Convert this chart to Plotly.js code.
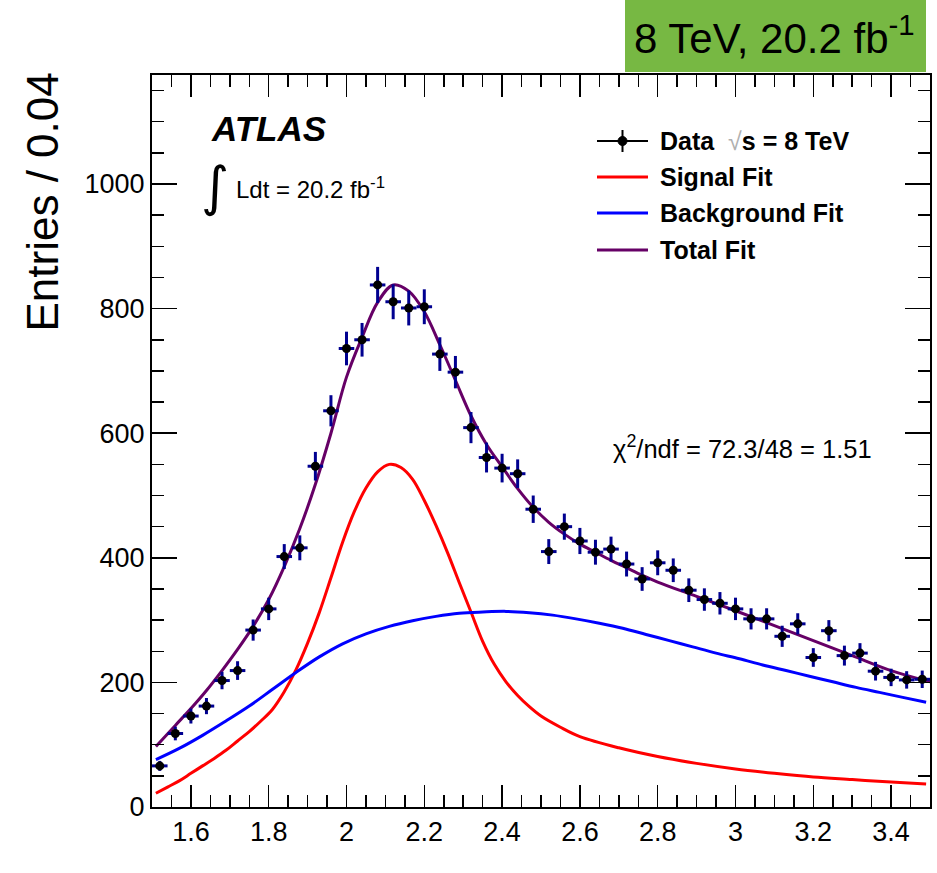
<!DOCTYPE html>
<html>
<head>
<meta charset="utf-8">
<script src="https://cdn.plot.ly/plotly-3.0.1.min.js"></script>
<style>html,body{margin:0;padding:0;background:#fff;}#chart{width:937px;height:873px;}</style>
</head>
<body>
<div id="chart"></div>
<script>
// ---- data ----
const binCenters = [1.52,1.56,1.60,1.64,1.68,1.72,1.76,1.80,1.84,1.88,
                    1.92,1.96,2.00,2.04,2.08,2.12,2.16,2.20,2.24,2.28,
                    2.32,2.36,2.40,2.44,2.48,2.52,2.56,2.60,2.64,2.68,
                    2.72,2.76,2.80,2.84,2.88,2.92,2.96,3.00,3.04,3.08,
                    3.12,3.16,3.20,3.24,3.28,3.32,3.36,3.40,3.44,3.48];
const entries = [66,118,146,162,203,219,284,318,402,416,
                 547,636,736,750,838,811,801,803,727,698,
                 609,561,544,535,478,410,450,427,409,414,
                 390,366,392,380,348,333,327,318,302,302,
                 274,294,240,283,243,247,218,208,204,205];
const entryErrors = [8,11,12,13,14,15,17,18,20,20,
                     23,25,27,27,29,28,28,28,27,26,
                     25,24,23,23,22,20,21,21,20,20,
                     20,19,20,19,19,18,18,18,17,17,
                     17,17,15,17,16,16,15,14,14,14];
const binHalfWidth = 0.02;

const signalX = [1.51,1.54,1.57,1.60,1.63,1.66,1.69,1.72,1.75,1.78,
                 1.81,1.84,1.87,1.90,1.93,1.96,1.99,2.02,2.05,2.08,
                 2.11,2.14,2.17,2.20,2.23,2.26,2.29,2.32,2.35,2.38,
                 2.41,2.44,2.47,2.50,2.55,2.60,2.70,2.80,2.90,3.00,
                 3.10,3.20,3.30,3.40,3.49];
const signalY = [22,32,42,54,66,78,91,106,121,138,
                 157,185,220,263,312,368,425,474,512,538,
                 550,545,526,492,452,408,360,313,266,229,
                 201,179,161,146,128,113,95,81,70,61,
                 54,48,44,40,37];

const bkgX = [1.51,1.57,1.63,1.69,1.75,1.81,1.87,1.93,1.99,2.05,
              2.11,2.17,2.23,2.29,2.35,2.41,2.47,2.53,2.59,2.65,
              2.71,2.77,2.83,2.89,2.95,3.01,3.07,3.13,3.19,3.25,
              3.31,3.37,3.43,3.49];
const bkgY = [76,94,115,138,162,189,216,241,262,278,
              290,299,306,311,313,314,312,308,302,295,
              287,277,267,257,247,238,228,219,210,201,
              192,184,176,168];

const totalX = [1.51,1.56,1.60,1.64,1.68,1.72,1.76,1.80,1.84,1.88,
                1.92,1.96,2.00,2.04,2.08,2.12,2.16,2.20,2.24,2.28,
                2.32,2.36,2.40,2.44,2.48,2.52,2.56,2.60,2.64,2.68,
                2.72,2.76,2.80,2.90,3.00,3.10,3.20,3.30,3.40,3.50];
const totalY = [97,131,158,187,219,253,290,333,386,447,
                518,600,690,754,810,838,828,795,742,685,
                628,582,546,511,481,457,438,422,409,396,
                384,372,361,338,315,291,267,243,219,201];

const legendLabels = ['Data', 'Signal Fit', 'Background Fit', 'Total Fit'];

// ---- styles ----
const FONT = 'Liberation Sans, Arial, Helvetica, sans-serif';
const cSignal = '#ff0000', cBkg = '#0000ff', cTotal = '#660066', cErr = '#000090';

const traces = [
  {x: signalX, y: signalY, type: 'scatter', mode: 'lines', name: legendLabels[1],
   line: {color: cSignal, width: 3, shape: 'spline', smoothing: 1}},
  {x: bkgX, y: bkgY, type: 'scatter', mode: 'lines', name: legendLabels[2],
   line: {color: cBkg, width: 3, shape: 'spline', smoothing: 1}},
  {x: totalX, y: totalY, type: 'scatter', mode: 'lines', name: legendLabels[3],
   line: {color: cTotal, width: 3, shape: 'spline', smoothing: 1}},
  {x: binCenters, y: entries, type: 'scatter', mode: 'markers', name: legendLabels[0],
   marker: {color: '#000', size: 9, symbol: 'circle'},
   error_y: {type: 'data', array: entryErrors, visible: true, color: cErr, thickness: 3, width: 0},
   error_x: {type: 'constant', value: binHalfWidth, visible: true, color: cErr, thickness: 3, width: 0}}
];

// pixel -> paper helpers (plot area: x 152..930, y 75..807)
const L = 152, R = 7, T = 75, B = 66, W = 937, H = 873;
const pw = W - L - R, ph = H - T - B;
const px = v => (v - L) / pw;
const py = v => (H - B - v) / ph;

const legendRowsY = [141, 177, 213, 250];
const legendColors = ['#000', cSignal, cBkg, cTotal];
const shapes = [
  {type: 'rect', xref: 'paper', yref: 'paper', x0: px(625), x1: px(926), y0: py(72), y1: py(0),
   fillcolor: '#77b843', line: {width: 0}, layer: 'above'}
];
for (let i = 0; i < 4; i++) {
  shapes.push({type: 'line', xref: 'paper', yref: 'paper', x0: px(597), x1: px(648),
               y0: py(legendRowsY[i]), y1: py(legendRowsY[i]),
               line: {color: legendColors[i], width: i === 0 ? 2 : 3}});
}
shapes.push({type: 'line', xref: 'paper', yref: 'paper', x0: px(622.5), x1: px(622.5),
             y0: py(legendRowsY[0] - 11), y1: py(legendRowsY[0] + 11), line: {color: '#000', width: 2}});
shapes.push({type: 'circle', xref: 'paper', yref: 'paper', xsizemode: 'pixel', ysizemode: 'pixel',
             xanchor: px(622.5), yanchor: py(legendRowsY[0]), x0: -4.5, x1: 4.5, y0: -4.5, y1: 4.5,
             fillcolor: '#000', line: {color: '#000', width: 1}});

const legendTexts = [
  '<b>Data</b>\u00a0\u00a0<span style="color:#b0b0b0">\u221a</span><b>s = 8 TeV</b>',
  '<b>' + legendLabels[1] + '</b>',
  '<b>' + legendLabels[2] + '</b>',
  '<b>' + legendLabels[3] + '</b>'
];
const annotations = legendTexts.map((t, i) => ({
  text: t, xref: 'paper', yref: 'paper', x: px(658), y: py(legendRowsY[i]),
  xanchor: 'left', yanchor: 'middle', showarrow: false,
  font: {family: FONT, size: 25, color: '#000'}
}));
annotations.push(
  {text: 'Entries / 0.04', textangle: -90, xref: 'paper', yref: 'paper', x: px(42), y: py(70),
   xanchor: 'center', yanchor: 'top', showarrow: false, font: {family: FONT, size: 44, color: '#000'}},
  {text: '8 TeV, 20.2 fb<sup>-1</sup>', xref: 'paper', yref: 'paper', x: px(632), y: py(35),
   xanchor: 'left', yanchor: 'middle', showarrow: false, font: {family: FONT, size: 42, color: '#000'}},
  {text: '<b><i>ATLAS</i></b>', xref: 'paper', yref: 'paper', x: px(209), y: py(128),
   xanchor: 'left', yanchor: 'middle', showarrow: false, font: {family: FONT, size: 35, color: '#000'}},
  {text: '\u222b', xref: 'paper', yref: 'paper', x: px(215), y: py(186),
   xanchor: 'center', yanchor: 'middle', showarrow: false, font: {family: 'DejaVu Sans', size: 54, color: '#000'}},
  {text: 'Ldt = 20.2 fb<sup>-1</sup>', xref: 'paper', yref: 'paper', x: px(234), y: py(188),
   xanchor: 'left', yanchor: 'middle', showarrow: false, font: {family: FONT, size: 24, color: '#000'}},
  {text: '\u03c7<sup>2</sup>/ndf = 72.3/48 = 1.51', xref: 'paper', yref: 'paper', x: px(611), y: py(447),
   xanchor: 'left', yanchor: 'middle', showarrow: false, font: {family: FONT, size: 25.5, color: '#000'}}
);

const axisCommon = {
  ticks: 'inside', tickcolor: '#000000', tickwidth: 1.5, showline: true, linecolor: '#000000', linewidth: 2,
  mirror: 'ticks', showgrid: false, zeroline: false, layer: 'above traces',
  tickfont: {family: FONT, size: 27, color: '#000'}
};

const layout = {
  width: W, height: H,
  margin: {l: L, r: R, t: T, b: B, pad: 0},
  paper_bgcolor: '#fff', plot_bgcolor: '#fff',
  showlegend: false,
  font: {family: FONT, color: '#000'},
  xaxis: Object.assign({}, axisCommon, {
    range: [1.5, 3.5], tickmode: 'linear', tick0: 1.6, dtick: 0.2, ticklen: 22,
    minor: {dtick: 0.05, tick0: 1.5, ticklen: 12, ticks: 'inside', tickcolor: '#000000', tickwidth: 1.5, showgrid: false}
  }),
  yaxis: Object.assign({}, axisCommon, {
    range: [0, 1175], tickmode: 'linear', tick0: 0, dtick: 200, ticklen: 25,
    minor: {dtick: 50, tick0: 0, ticklen: 12, ticks: 'inside', tickcolor: '#000000', tickwidth: 1.5, showgrid: false}
  }),
  shapes: shapes,
  annotations: annotations
};

Plotly.newPlot('chart', traces, layout, {displayModeBar: false, staticPlot: true});
</script>
</body>
</html>
